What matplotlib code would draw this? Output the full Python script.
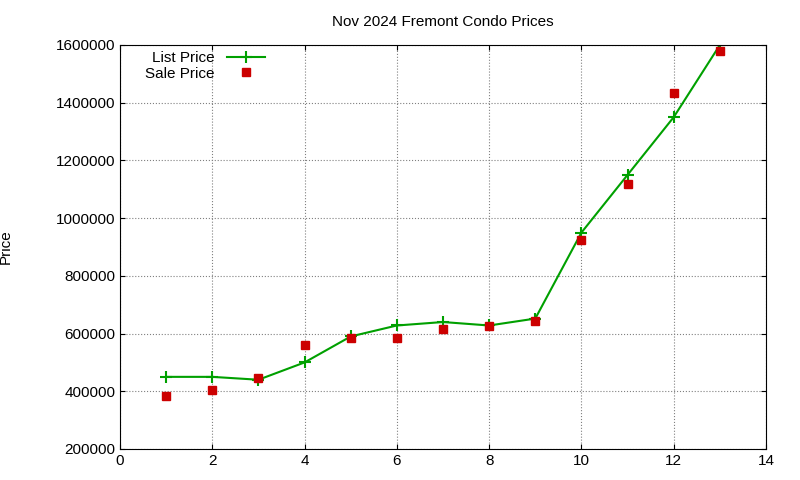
import matplotlib
matplotlib.use("Agg")
import matplotlib.pyplot as plt

rank = [1, 2, 3, 4, 5, 6, 7, 8, 9, 10, 11, 12, 13]
list_price = [450000, 450000, 440000, 500000, 590000, 628000, 640000, 628000,
              652000, 950000, 1150000, 1350000, 1600000]
sale_price = [385000, 406000, 446000, 560000, 585000, 585000, 616000, 627000,
              644000, 924000, 1118000, 1432000, 1578000]

plt.rcParams['font.family'] = ['Liberation Sans', 'DejaVu Sans']
fig = plt.figure(figsize=(8, 4.8), dpi=100)
ax = fig.add_axes([120 / 800, 1 - 449 / 480, 646 / 800, 404 / 480])

ax.plot(rank, list_price, '-', color='#00a000', linewidth=1.5,
        marker='+', markersize=8, markeredgewidth=1.5, label='List Price')
ax.plot(rank, sale_price, 's', color='#cc0000', markersize=5.5,
        linestyle='none', label='Sale Price')

ax.set_xlim(0, 14)
ax.set_ylim(200000, 1600000)
ax.set_xticks(range(0, 15, 2))
ax.set_yticks(range(200000, 1600001, 200000))
ax.ticklabel_format(style='plain', axis='y')
ax.grid(True, linestyle=':', color='#808080', linewidth=0.8)
ax.tick_params(direction='in', labelsize=11, top=True, right=True)
ax.set_ylabel('Price', fontsize=11)
ax.yaxis.set_label_coords(-(120 - 13) / 646, 0.5)
ax.set_title('Nov 2024 Fremont Condo Prices', fontsize=11, pad=14)
ax.legend(loc='upper left', markerfirst=False, frameon=False, fontsize=11,
          bbox_to_anchor=(0.03, 1.0), handlelength=2.5, borderaxespad=0,
          labelspacing=0.1)

fig.savefig('out.png', dpi=100)
